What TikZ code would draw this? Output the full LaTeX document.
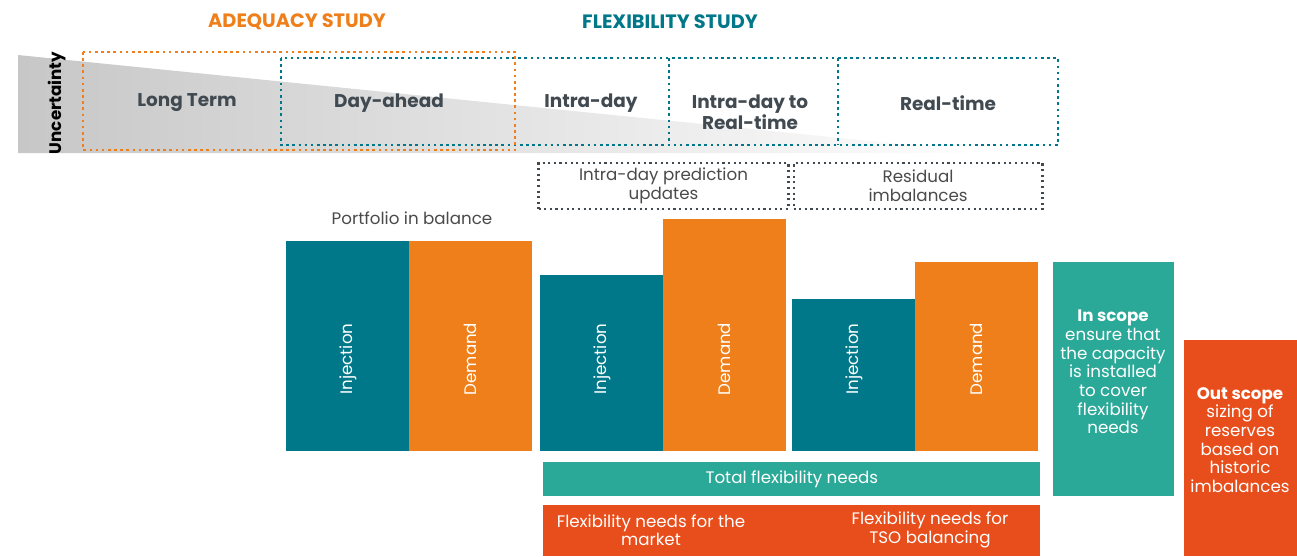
\documentclass[tikz,border=0pt]{standalone}
\usepackage{fontspec}
\setmainfont{Poppins}
\usetikzlibrary{positioning, calc}
\definecolor{petrol}{HTML}{00788A}
\definecolor{amber}{HTML}{EE7F1A}
\definecolor{jade}{HTML}{2AA898}
\definecolor{flame}{HTML}{E84E1B}
\definecolor{slate}{HTML}{414A51}
\definecolor{ink}{HTML}{4A4A4A}
\tikzset{
  bar/.style={
    rectangle, inner sep=0pt, anchor=south west,
    minimum width=2.46cm
  },
  injbar/.style={bar, fill=petrol},
  dembar/.style={bar, fill=amber},
  barlabel/.style={rotate=90, text=white, font=\fontsize{9.5}{11}\selectfont},
  strip/.style={
    rectangle, inner sep=0pt, anchor=north west,
    text=white, align=center,
    font=\fontsize{9.5}{10.6}\selectfont
  },
  phase/.style={font=\bfseries\fontsize{10.5}{11}\selectfont, text=slate, align=center},
  study/.style={font=\bfseries\fontsize{11}{12}\selectfont},
  cause/.style={
    rectangle, draw=slate, dotted, line width=1.2pt,
    minimum width=5.0cm, minimum height=0.92cm, inner sep=0pt,
    align=center, text=ink, font=\fontsize{9.5}{10.6}\selectfont
  },
  frame/.style={dotted, line width=1.5pt},
}
\begin{document}
\begin{tikzpicture}[x=0.02cm, y=-0.02cm]
  \useasboundingbox (0,0) rectangle (1297,556);

  % uncertainty wedge
  \shade[left color=black!22, right color=white]
    (18,55) -- (990,153) -- (18,153) -- cycle;
  \node[rotate=90, font=\bfseries\fontsize{9.5}{10}\selectfont] (unc) at (57,103) {Uncertainty};

  % study headers
  \node[study, text=amber] (adeq) at (297,22) {ADEQUACY STUDY};
  \node[study, text=petrol] (flex) at (670,22) {FLEXIBILITY STUDY};

  % time frames
  \draw[frame, draw=petrol] (281,58) rectangle (1058,145);
  \draw[frame, draw=petrol] (669,58) -- (669,145);
  \draw[frame, draw=petrol] (838,58) -- (838,145);
  \draw[frame, draw=amber] (83,52) rectangle (515,150);

  \node[phase] (lt) at (187,103) {Long Term};
  \node[phase] (da) at (389,103) {Day-ahead};
  \node[phase] (id) at (591,103) {Intra-day};
  \node[phase, font=\bfseries\fontsize{10.5}{10}\selectfont] (idrt) at (750,112) {Intra-day to\\Real-time};
  \node[phase] (rt) at (948,103) {Real-time};

  % causes
  \node[cause] (upd) at (663.5,186) {Intra-day prediction\\updates};
  \node[cause, minimum width=4.98cm, right=0.06cm of upd] (res) {Residual\\imbalances};

  % portfolios
  \node[text=ink, font=\fontsize{9.5}{11}\selectfont] (bal) at (412,218) {Portfolio in balance};
  \node[injbar, minimum height=4.20cm] (inj1) at (286,451) {};
  \node[dembar, minimum height=4.20cm] (dem1) at (409,451) {};
  \node[injbar, minimum height=3.52cm] (inj2) at (540,451) {};
  \node[dembar, minimum height=4.64cm] (dem2) at (663,451) {};
  \node[injbar, minimum height=3.04cm] (inj3) at (792,451) {};
  \node[dembar, minimum height=3.78cm] (dem3) at (915,451) {};
  \foreach \b/\t in {inj1/Injection, dem1/Demand, inj2/Injection,
                     dem2/Demand, inj3/Injection, dem3/Demand}
    \node[barlabel] (\b-txt) at (\b.south |- 0,359) {\t};

  % needs
  \node[strip, fill=jade, minimum width=9.94cm, minimum height=0.68cm] (total) at (543,462) {Total flexibility needs};
  \node[strip, fill=flame, minimum width=9.94cm, minimum height=1.02cm] (needs) at (543,505) {};
  \node[strip, anchor=center] (mkt) at (651,530) {Flexibility needs for the\\market};
  \node[strip, anchor=center] (tso) at (930,530) {Flexibility needs for\\TSO balancing};

  % scope
  \node[strip, fill=jade, minimum width=2.42cm, minimum height=4.68cm] (in) at (1053,262) {};
  \node[strip, anchor=center] (in-txt) at (1113,372)
    {\textbf{In scope}\\ensure that\\the capacity\\is installed\\to cover\\flexibility\\needs};
  \node[strip, fill=flame, minimum width=2.26cm, minimum height=4.32cm] (out) at (1184,340) {};
  \node[strip, anchor=center] (out-txt) at (1240,440)
    {\textbf{Out scope}\\sizing of\\reserves\\based on\\historic\\imbalances};
\end{tikzpicture}
\end{document}
